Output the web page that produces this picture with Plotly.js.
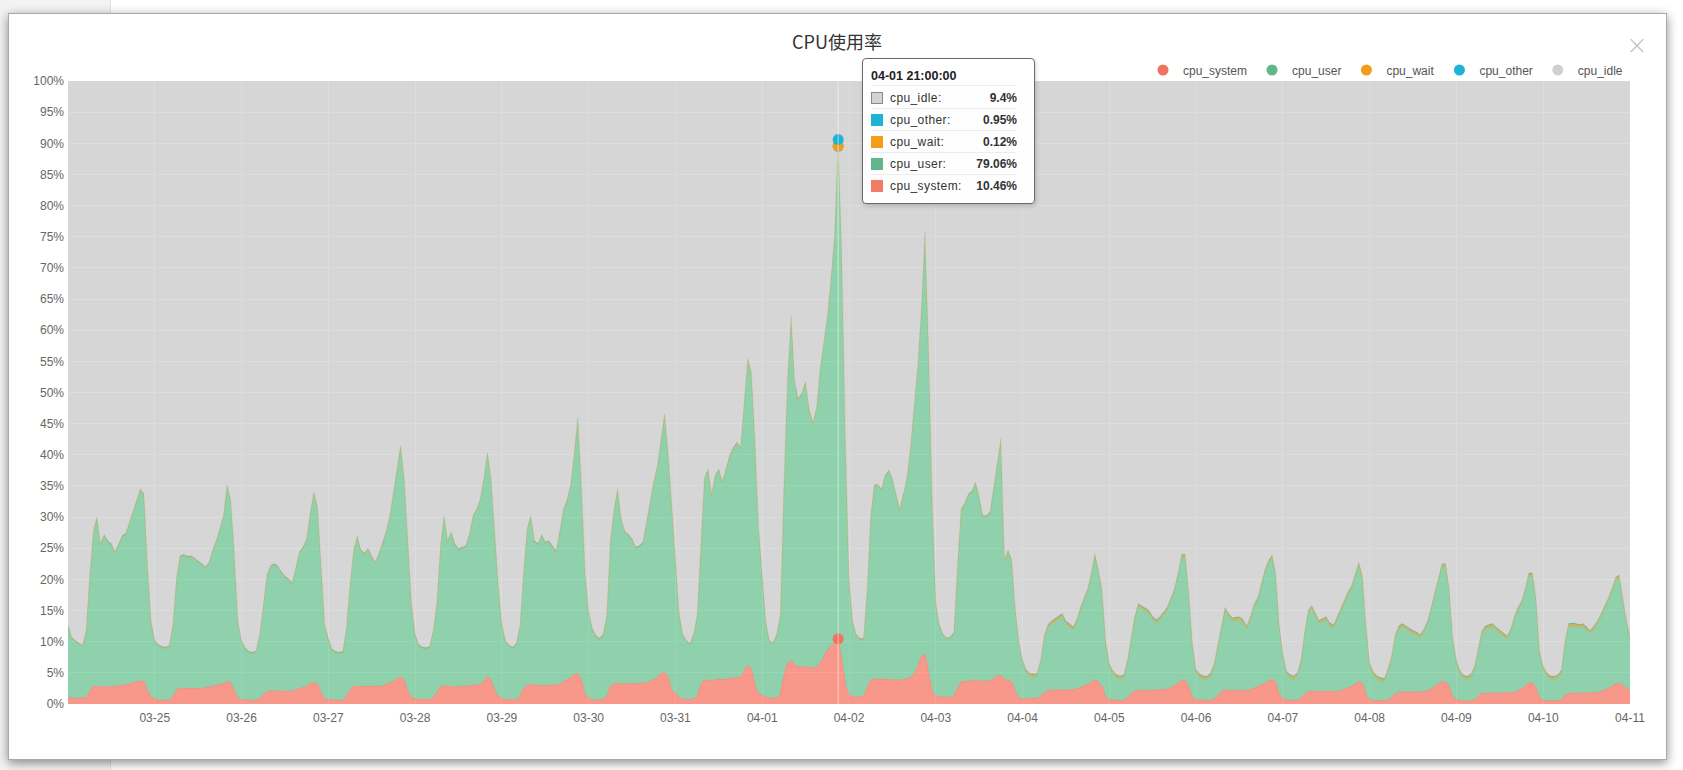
<!DOCTYPE html>
<html>
<head>
<meta charset="utf-8">
<script src="https://cdn.plot.ly/plotly-3.0.1.min.js"></script>
<style>
html,body{margin:0;padding:0;width:1683px;height:770px;overflow:hidden;background:#fff;font-family:"Liberation Sans",Arial,sans-serif;}
#side{position:absolute;left:0;top:0;width:110px;height:770px;background:#f3f3f3;border-right:1px solid #e2e2e2;}
#modal{position:absolute;left:8px;top:13px;width:1657px;height:745px;background:#fff;border:1px solid #a9a9a9;box-shadow:0 3px 10px rgba(0,0,0,0.45);}
#chart{position:absolute;left:0;top:0;width:1683px;height:770px;}
#close{position:absolute;left:1626px;top:30px;width:22px;height:30px;font-size:26px;line-height:30px;color:#c4c4c4;text-align:center;font-family:"DejaVu Sans",sans-serif;font-weight:300;}
#tip{position:absolute;left:862px;top:58px;width:146px;padding:8px 17px 7px 8px;background:rgba(255,255,255,0.97);border:1px solid #6a6a6a;border-radius:4px;box-shadow:1px 2px 4px rgba(0,0,0,0.18);font-size:12px;color:#333;font-family:"Liberation Sans",Arial,sans-serif;}
#tip .t{font-weight:bold;font-size:12.5px;line-height:18px;margin-bottom:1px;color:#222;border-bottom:1px solid #ececec;}
#tip .r{display:flex;align-items:center;height:21px;border-bottom:1px solid #ececec;}
#tip .r:last-child{border-bottom:none;}
#tip .sq{width:12px;height:12px;margin-right:7px;box-sizing:border-box;}
#tip .lb{flex:1;letter-spacing:0.4px;}
#tip .v{font-weight:bold;}
</style>
</head>
<body>
<div id="side"></div>
<div id="modal"></div>
<div id="chart"></div>
<div id="close">×</div>
<div id="tip"></div>
<script>
// ---- categories: days of the x axis (hourly samples, 00..23 each day) ----
const days = ['2025-03-24','2025-03-25','2025-03-26','2025-03-27','2025-03-28','2025-03-29','2025-03-30','2025-03-31','2025-04-01','2025-04-02','2025-04-03','2025-04-04','2025-04-05','2025-04-06','2025-04-07','2025-04-08','2025-04-09','2025-04-10'];
const lastTime = '2025-04-11 00:00';

const seriesNames = ['cpu_system','cpu_user','cpu_wait','cpu_other','cpu_idle'];

// ---- series values (%), one row per day, 24 hourly values, plus final 04-11 00:00 ----
const cpu_system = [
1.0,0.9,0.9,0.9,0.9,1.0,2.0,2.9,2.8,2.7,2.8,2.7,2.7,2.8,2.9,3.0,3.0,3.2,3.4,3.6,3.7,3.6,2.0,1.1,
0.8,0.6,0.6,0.6,0.6,1.2,2.3,2.5,2.5,2.4,2.5,2.5,2.4,2.5,2.6,2.7,2.8,3.0,3.1,3.3,3.6,3.4,2.0,0.9,
0.7,0.6,0.6,0.6,0.6,0.9,1.5,2.0,2.1,2.0,2.1,2.0,2.0,2.1,2.0,2.3,2.5,2.6,2.8,3.2,3.4,3.2,1.8,0.8,
0.7,0.6,0.6,0.6,0.6,1.2,2.2,2.8,2.8,2.7,2.7,2.8,2.8,2.7,2.8,2.9,3.1,3.3,3.6,4.0,4.4,3.8,2.0,1.0,
0.8,0.7,0.7,0.7,0.7,1.0,1.8,2.7,2.9,2.8,2.8,2.7,2.8,2.8,2.8,2.9,3.0,3.0,3.2,3.6,4.4,3.8,2.2,1.2,
0.9,0.7,0.7,0.7,0.7,1.2,2.5,3.0,3.1,3.0,3.0,3.0,2.9,3.0,3.0,3.0,3.2,3.5,3.8,4.2,4.7,4.9,3.8,1.5,
1.0,0.7,0.6,0.6,0.7,1.2,2.8,3.2,3.3,3.2,3.2,3.2,3.3,3.2,3.3,3.3,3.4,3.6,3.9,4.3,4.8,5.2,4.3,2.0,
1.8,1.0,0.8,0.7,0.7,0.8,1.2,3.0,3.8,3.8,3.7,3.9,4.0,3.9,4.0,4.1,4.2,4.2,4.3,5.3,6.3,5.5,3.0,1.5,
1.5,1.0,0.9,0.9,1.0,1.5,4.5,6.5,7.0,6.2,6.0,5.9,6.0,5.8,5.7,5.9,6.5,7.5,8.7,9.2,9.8,10.46,7.0,3.0,
1.5,1.2,1.1,1.1,1.2,2.5,3.8,4.0,4.0,3.9,4.0,4.0,3.9,3.8,3.8,3.9,4.0,4.2,4.8,6.0,7.5,8.0,5.0,2.0,
1.2,1.1,1.1,1.1,1.1,1.2,2.5,3.5,3.6,3.6,3.7,3.8,3.7,3.6,3.7,3.7,4.0,4.5,4.6,3.8,3.8,3.6,2.0,1.0,
0.8,0.8,0.8,0.8,0.9,1.2,1.9,2.1,2.2,2.2,2.3,2.2,2.2,2.2,2.3,2.4,2.6,2.8,3.1,3.5,3.9,3.5,2.8,1.0,
0.7,0.6,0.6,0.6,0.6,0.9,1.6,2.1,2.2,2.2,2.2,2.1,2.2,2.2,2.3,2.3,2.4,2.6,2.9,3.3,3.8,3.8,2.7,0.9,
0.7,0.6,0.6,0.6,0.6,0.8,1.3,2.0,2.2,2.2,2.1,2.2,2.2,2.1,2.1,2.3,2.5,2.8,3.0,3.3,3.7,3.9,3.5,1.5,
0.9,0.6,0.6,0.6,0.6,0.9,1.6,2.0,2.0,2.0,2.0,2.0,1.9,1.9,2.0,2.0,2.1,2.3,2.5,2.8,3.2,3.6,3.3,1.5,
0.7,0.5,0.5,0.5,0.5,0.6,1.0,1.6,1.9,1.9,1.9,1.8,1.8,1.9,1.9,2.0,2.1,2.4,2.8,3.2,3.6,3.5,2.8,1.0,
0.7,0.5,0.5,0.5,0.5,0.7,1.2,1.7,1.7,1.7,1.7,1.7,1.7,1.7,1.7,1.8,1.9,2.1,2.4,2.8,3.4,3.4,2.6,0.9,
0.6,0.5,0.5,0.5,0.5,0.6,1.4,1.7,1.7,1.7,1.7,1.7,1.7,1.7,1.8,1.8,2.0,2.2,2.5,2.8,3.2,3.3,3.0,2.5,
2.2];

const cpu_user = [
11.5,9.6,9.1,8.7,8.3,10.5,18.5,24.6,27.0,22.8,24.2,23.3,22.8,21.4,22.6,23.8,24.2,25.8,27.2,28.9,30.6,29.9,20.0,11.9,
9.2,8.7,8.4,8.3,8.6,11.3,17.7,21.1,21.3,21.1,21.1,20.7,20.4,19.8,19.2,19.8,21.7,23.0,24.9,26.7,31.4,29.1,22.0,12.1,
9.3,8.2,7.6,7.5,7.7,10.1,14.1,18.5,19.9,20.3,19.9,19.0,18.3,17.8,17.2,19.2,21.7,22.4,23.5,27.3,30.4,28.3,20.7,11.7,
9.6,8.0,7.6,7.5,7.6,10.8,16.8,21.7,24.0,21.8,21.3,22.0,20.7,19.9,21.2,22.9,24.4,26.7,30.4,34.0,36.9,32.2,24.0,15.0,
10.2,8.6,8.2,8.1,8.3,10.5,14.2,22.3,27.1,23.2,24.6,22.8,21.9,22.2,22.4,24.1,27.0,28.0,29.5,32.4,35.8,32.2,24.8,17.8,
11.6,9.3,8.5,8.2,8.8,11.2,18.5,25.0,26.9,23.0,22.5,24.0,22.9,23.0,22.2,21.4,24.3,27.5,28.7,30.8,35.3,40.9,31.2,19.5,
13.5,11.3,10.2,9.7,10.3,12.8,23.2,27.8,31.0,26.3,24.3,23.8,23.0,21.8,21.9,22.5,25.6,28.9,31.6,33.7,37.2,41.2,35.7,29.0,
21.2,13.5,10.2,9.3,8.8,10.2,12.8,23.0,32.2,33.7,29.8,32.6,33.5,31.6,33.5,35.6,36.8,37.6,36.7,42.7,48.9,47.5,39.0,26.5,
18.5,12.0,9.1,8.7,10.0,12.5,30.5,45.5,55.0,45.2,42.8,43.9,45.5,41.2,39.3,41.3,47.0,50.0,53.3,58.8,65.2,79.06,65.0,39.0,
18.5,11.8,9.9,9.2,9.1,15.5,26.2,31.0,31.0,30.4,32.5,33.3,32.1,29.7,27.3,29.6,32.0,36.8,42.2,48.0,55.5,67.5,52.0,31.0,
14.8,11.4,9.9,9.3,9.4,10.1,19.5,27.5,28.4,29.9,30.3,31.6,29.3,26.4,26.3,26.9,30.5,34.0,37.8,19.2,20.7,19.4,13.0,8.7,
5.7,4.2,3.6,3.5,3.5,5.3,8.6,10.1,10.6,11.0,11.3,11.8,10.6,10.1,9.6,10.6,12.4,13.7,14.9,17.0,19.7,17.5,15.0,8.5,
5.3,4.2,3.6,3.4,3.6,5.6,8.4,11.4,13.4,13.0,12.6,12.4,11.3,10.8,11.2,12.0,12.6,13.9,15.1,17.2,19.7,19.7,14.3,8.1,
4.3,3.7,3.4,3.3,3.9,5.2,7.7,10.5,12.8,11.8,11.2,11.2,11.3,10.9,9.9,11.2,13.0,13.7,16.0,17.7,18.8,19.5,17.0,10.5,
6.6,4.2,3.6,3.4,3.9,5.6,9.4,12.5,13.3,12.0,10.9,11.2,11.6,10.6,10.2,11.5,12.7,13.7,15.0,15.7,17.3,18.7,16.7,10.5,
5.3,4.2,3.5,3.2,3.1,4.4,6.0,8.9,10.1,10.5,10.1,9.8,9.5,9.1,8.7,9.5,10.7,12.6,14.7,16.8,18.4,18.5,15.2,9.0,
5.8,4.3,3.6,3.4,3.8,4.8,7.3,9.5,10.3,10.5,10.7,10.1,9.6,9.1,8.7,9.7,11.6,12.9,13.6,15.2,17.1,17.1,13.9,7.1,
4.9,4.0,3.5,3.4,3.7,4.3,8.1,10.7,10.8,10.7,10.5,10.7,10.1,9.6,10.2,11.0,12.0,13.0,14.0,15.2,16.6,16.9,13.5,10.5,
8.1];

const cpu_wait = [
0.1,0.1,0.1,0.1,0.1,0.1,0.1,0.1,0.1,0.1,0.1,0.1,0.1,0.1,0.1,0.1,0.1,0.1,0.1,0.1,0.1,0.1,0.1,0.1,
0.1,0.1,0.1,0.1,0.1,0.1,0.1,0.1,0.1,0.1,0.1,0.1,0.1,0.1,0.1,0.1,0.1,0.1,0.1,0.1,0.1,0.1,0.1,0.1,
0.1,0.1,0.1,0.1,0.1,0.1,0.1,0.1,0.1,0.1,0.1,0.1,0.1,0.1,0.1,0.1,0.1,0.1,0.1,0.1,0.1,0.1,0.1,0.1,
0.1,0.1,0.1,0.1,0.1,0.1,0.1,0.1,0.1,0.1,0.1,0.1,0.1,0.1,0.1,0.1,0.1,0.1,0.1,0.1,0.1,0.1,0.1,0.1,
0.1,0.1,0.1,0.1,0.1,0.1,0.1,0.1,0.1,0.1,0.1,0.1,0.1,0.1,0.1,0.1,0.1,0.1,0.1,0.1,0.1,0.1,0.1,0.1,
0.1,0.1,0.1,0.1,0.1,0.1,0.1,0.1,0.1,0.1,0.1,0.1,0.1,0.1,0.1,0.1,0.1,0.1,0.1,0.1,0.1,0.1,0.1,0.1,
0.1,0.1,0.1,0.1,0.1,0.1,0.1,0.1,0.1,0.1,0.1,0.1,0.1,0.1,0.1,0.1,0.1,0.1,0.1,0.1,0.1,0.1,0.1,0.1,
0.1,0.1,0.1,0.1,0.1,0.1,0.1,0.1,0.1,0.1,0.1,0.1,0.1,0.1,0.1,0.1,0.1,0.1,0.1,0.1,0.1,0.1,0.1,0.1,
0.1,0.1,0.1,0.1,0.1,0.1,0.1,0.1,0.1,0.1,0.1,0.1,0.1,0.1,0.1,0.1,0.1,0.1,0.1,0.1,0.1,0.12,0.1,0.1,
0.1,0.1,0.1,0.1,0.1,0.1,0.1,0.1,0.1,0.1,0.1,0.1,0.1,0.1,0.1,0.1,0.1,0.1,0.1,0.1,0.1,0.1,0.1,0.1,
0.1,0.1,0.1,0.1,0.1,0.1,0.1,0.1,0.1,0.1,0.1,0.1,0.1,0.1,0.1,0.1,0.1,0.1,0.1,0.1,0.1,0.1,0.1,0.1,
0.35,0.35,0.35,0.35,0.35,0.35,0.35,0.35,0.35,0.35,0.35,0.35,0.35,0.35,0.35,0.35,0.35,0.35,0.35,0.35,0.35,0.35,0.35,0.35,
0.35,0.35,0.35,0.35,0.35,0.35,0.35,0.35,0.35,0.35,0.35,0.35,0.35,0.35,0.35,0.35,0.35,0.35,0.35,0.35,0.35,0.35,0.35,0.35,
0.35,0.35,0.35,0.35,0.35,0.35,0.35,0.35,0.35,0.35,0.35,0.35,0.35,0.35,0.35,0.35,0.35,0.35,0.35,0.35,0.35,0.35,0.35,0.35,
0.35,0.35,0.35,0.35,0.35,0.35,0.35,0.35,0.35,0.35,0.35,0.35,0.35,0.35,0.35,0.35,0.35,0.35,0.35,0.35,0.35,0.35,0.35,0.35,
0.35,0.35,0.35,0.35,0.35,0.35,0.35,0.35,0.35,0.35,0.35,0.35,0.35,0.35,0.35,0.35,0.35,0.35,0.35,0.35,0.35,0.35,0.35,0.35,
0.35,0.35,0.35,0.35,0.35,0.35,0.35,0.35,0.35,0.35,0.35,0.35,0.35,0.35,0.35,0.35,0.35,0.35,0.35,0.35,0.35,0.35,0.35,0.35,
0.35,0.35,0.35,0.35,0.35,0.35,0.35,0.35,0.35,0.35,0.35,0.35,0.35,0.35,0.35,0.35,0.35,0.35,0.35,0.35,0.35,0.35,0.35,0.35,
0.35];

const cpu_other = [
0.15,0.15,0.15,0.15,0.15,0.15,0.15,0.15,0.15,0.15,0.15,0.15,0.15,0.15,0.15,0.15,0.15,0.15,0.15,0.15,0.15,0.15,0.15,0.15,
0.15,0.15,0.15,0.15,0.15,0.15,0.15,0.15,0.15,0.15,0.15,0.15,0.15,0.15,0.15,0.15,0.15,0.15,0.15,0.15,0.15,0.15,0.15,0.15,
0.15,0.15,0.15,0.15,0.15,0.15,0.15,0.15,0.15,0.15,0.15,0.15,0.15,0.15,0.15,0.15,0.15,0.15,0.15,0.15,0.15,0.15,0.15,0.15,
0.15,0.15,0.15,0.15,0.15,0.15,0.15,0.15,0.15,0.15,0.15,0.15,0.15,0.15,0.15,0.15,0.15,0.15,0.15,0.15,0.15,0.15,0.15,0.15,
0.15,0.15,0.15,0.15,0.15,0.15,0.15,0.15,0.15,0.15,0.15,0.15,0.15,0.15,0.15,0.15,0.15,0.15,0.15,0.15,0.15,0.15,0.15,0.15,
0.15,0.15,0.15,0.15,0.15,0.15,0.15,0.15,0.15,0.15,0.15,0.15,0.15,0.15,0.15,0.15,0.15,0.15,0.15,0.15,0.15,0.15,0.15,0.15,
0.15,0.15,0.15,0.15,0.15,0.15,0.15,0.15,0.15,0.15,0.15,0.15,0.15,0.15,0.15,0.15,0.15,0.15,0.15,0.15,0.15,0.15,0.15,0.15,
0.15,0.15,0.15,0.15,0.15,0.15,0.15,0.15,0.15,0.15,0.15,0.15,0.15,0.15,0.15,0.15,0.15,0.15,0.15,0.15,0.15,0.15,0.15,0.15,
0.15,0.15,0.15,0.15,0.15,0.15,0.15,0.15,0.15,0.15,0.15,0.15,0.15,0.15,0.15,0.15,0.15,0.15,0.15,0.15,0.15,0.95,0.15,0.15,
0.15,0.15,0.15,0.15,0.15,0.15,0.15,0.15,0.15,0.15,0.15,0.15,0.15,0.15,0.15,0.15,0.15,0.15,0.15,0.15,0.15,0.15,0.15,0.15,
0.15,0.15,0.15,0.15,0.15,0.15,0.15,0.15,0.15,0.15,0.15,0.15,0.15,0.15,0.15,0.15,0.15,0.15,0.15,0.15,0.15,0.15,0.15,0.15,
0.2,0.2,0.2,0.2,0.2,0.2,0.2,0.2,0.2,0.2,0.2,0.2,0.2,0.2,0.2,0.2,0.2,0.2,0.2,0.2,0.2,0.2,0.2,0.2,
0.2,0.2,0.2,0.2,0.2,0.2,0.2,0.2,0.2,0.2,0.2,0.2,0.2,0.2,0.2,0.2,0.2,0.2,0.2,0.2,0.2,0.2,0.2,0.2,
0.2,0.2,0.2,0.2,0.2,0.2,0.2,0.2,0.2,0.2,0.2,0.2,0.2,0.2,0.2,0.2,0.2,0.2,0.2,0.2,0.2,0.2,0.2,0.2,
0.2,0.2,0.2,0.2,0.2,0.2,0.2,0.2,0.2,0.2,0.2,0.2,0.2,0.2,0.2,0.2,0.2,0.2,0.2,0.2,0.2,0.2,0.2,0.2,
0.2,0.2,0.2,0.2,0.2,0.2,0.2,0.2,0.2,0.2,0.2,0.2,0.2,0.2,0.2,0.2,0.2,0.2,0.2,0.2,0.2,0.2,0.2,0.2,
0.2,0.2,0.2,0.2,0.2,0.2,0.2,0.2,0.2,0.2,0.2,0.2,0.2,0.2,0.2,0.2,0.2,0.2,0.2,0.2,0.2,0.2,0.2,0.2,
0.2,0.2,0.2,0.2,0.2,0.2,0.2,0.2,0.2,0.2,0.2,0.2,0.2,0.2,0.2,0.2,0.2,0.2,0.2,0.2,0.2,0.2,0.2,0.2,
0.2];

const cpu_idle = [
87.25,89.25,89.75,90.15,90.55,88.25,79.25,72.25,69.95,74.25,72.75,73.75,74.25,75.55,74.25,72.95,72.55,70.75,69.15,67.25,65.45,66.25,77.75,86.75,
89.75,90.45,90.75,90.85,90.55,87.25,79.75,76.15,75.95,76.25,76.15,76.55,76.95,77.45,77.95,77.25,75.25,73.75,71.75,69.75,64.75,67.25,75.75,86.75,
89.75,90.95,91.55,91.65,91.45,88.75,84.15,79.25,77.75,77.45,77.75,78.75,79.45,79.85,80.55,78.25,75.55,74.75,73.45,69.25,65.95,68.25,77.25,87.25,
89.45,91.15,91.55,91.65,91.55,87.75,80.75,75.25,72.95,75.25,75.75,74.95,76.25,77.15,75.75,73.95,72.25,69.75,65.75,61.75,58.45,63.75,73.75,83.75,
88.75,90.45,90.85,90.95,90.75,88.25,83.75,74.75,69.75,73.75,72.35,74.25,75.05,74.75,74.55,72.75,69.75,68.75,67.05,63.75,59.55,63.75,72.75,80.75,
87.25,89.75,90.55,90.85,90.25,87.35,78.75,71.75,69.75,73.75,74.25,72.75,73.95,73.75,74.55,75.35,72.25,68.75,67.25,64.75,59.75,53.95,64.75,78.75,
85.25,87.75,88.95,89.45,88.75,85.75,73.75,68.75,65.45,70.25,72.25,72.75,73.45,74.75,74.55,73.95,70.75,67.25,64.25,61.75,57.75,53.35,59.75,68.75,
76.75,85.25,88.75,89.75,90.25,88.75,85.75,73.75,63.75,62.25,66.25,63.25,62.25,64.25,62.25,60.05,58.75,57.95,58.75,51.75,44.55,46.75,57.75,71.75,
79.75,86.75,89.75,90.15,88.75,85.75,64.75,47.75,37.75,48.35,50.95,49.95,48.25,52.75,54.75,52.55,46.25,42.25,37.75,31.75,24.75,9.4,27.75,57.75,
79.75,86.75,88.75,89.45,89.45,81.75,69.75,64.75,64.75,65.45,63.25,62.45,63.75,66.25,68.65,66.25,63.75,58.75,52.75,45.75,36.75,24.25,42.75,66.75,
83.75,87.25,88.75,89.35,89.25,88.45,77.75,68.75,67.75,66.25,65.75,64.35,66.75,69.75,69.75,69.15,65.25,61.25,57.35,76.75,75.25,76.75,84.75,90.05,
92.95,94.45,95.05,95.15,95.05,92.95,88.95,87.25,86.65,86.25,85.85,85.45,86.65,87.15,87.55,86.45,84.45,82.95,81.45,78.95,75.85,78.45,81.65,89.95,
93.45,94.65,95.25,95.45,95.25,92.95,89.45,85.95,83.85,84.25,84.65,84.95,85.95,86.45,85.95,85.15,84.45,82.95,81.45,78.95,75.95,75.95,82.45,90.45,
94.45,95.15,95.45,95.55,94.95,93.45,90.45,86.95,84.45,85.45,86.15,86.05,85.95,86.45,87.45,85.95,83.95,82.95,80.45,78.45,76.95,76.05,78.95,87.45,
91.95,94.65,95.25,95.45,94.95,92.95,88.45,84.95,84.15,85.45,86.55,86.25,85.95,86.95,87.25,85.95,84.65,83.45,81.95,80.95,78.95,77.15,79.45,87.45,
93.45,94.75,95.45,95.75,95.85,94.45,92.45,88.95,87.45,87.05,87.45,87.85,88.15,88.45,88.85,87.95,86.65,84.45,81.95,79.45,77.45,77.45,81.45,89.45,
92.95,94.65,95.35,95.55,95.15,93.95,90.95,88.25,87.45,87.25,87.05,87.65,88.15,88.65,89.05,87.95,85.95,84.45,83.45,81.45,78.95,78.95,82.95,91.45,
93.95,94.95,95.45,95.55,95.25,94.55,89.95,87.05,86.95,87.05,87.25,87.05,87.65,88.15,87.45,86.65,85.45,84.25,82.95,81.45,79.65,79.25,82.95,86.45,
89.15];

// the sample shown in the tooltip: 04-01 21:00
const hoverTime = '2025-04-01 21:00';

// ---- build time axis from the day list ----
const xs = [];
days.forEach(d => { for (let h = 0; h < 24; h++) xs.push(d + ' ' + String(h).padStart(2,'0') + ':00'); });
xs.push(lastTime);
const hi = xs.indexOf(hoverTime);
// tick labels: every midnight after the first day, up to 04-11
const tickVals = days.slice(1).map(d => d + ' 00:00').concat([lastTime]);

const markerColors = {cpu_system:'#ef735f', cpu_user:'#62b68c', cpu_wait:'#f39d1d', cpu_other:'#1cb3d5', cpu_idle:'#d0d0d0'};
const fillColors = {
  cpu_system:'rgba(255,145,129,0.87)',
  cpu_user:'rgba(134,210,168,0.87)',
  cpu_wait:'rgba(246,165,40,0.87)',
  cpu_other:'rgba(30,182,212,0.87)',
  cpu_idle:'rgba(216,216,216,0.87)'
};
const lineStyles = {
  cpu_system:{color:'#f6907f', width:1},
  cpu_user:{color:'#86cea6', width:1},
  cpu_wait:{color:'rgba(226,172,70,0.75)', width:1},
  cpu_other:{color:'rgba(120,200,200,0.35)', width:0.6},
  cpu_idle:{color:'rgba(0,0,0,0)', width:0}
};
const dataBy = {cpu_system:cpu_system, cpu_user:cpu_user, cpu_wait:cpu_wait, cpu_other:cpu_other, cpu_idle:cpu_idle};

const traces = [];
seriesNames.forEach(n => {
  traces.push({
    type:'scatter', mode:'lines', x:xs, y:dataBy[n], name:n,
    stackgroup:'cpu', fillcolor:fillColors[n], line:Object.assign({shape:'linear'}, lineStyles[n]),
    showlegend:false, hoverinfo:'skip'
  });
});

// hover dots at the tooltip sample (stacked tops)
let cum = 0;
seriesNames.forEach(n => {
  cum += dataBy[n][hi];
  const showDot = n !== 'cpu_idle';
  traces.push({
    type:'scatter', mode:'markers', name:n,
    x: showDot ? [xs[hi]] : [null], y: showDot ? [cum] : [null],
    marker:{size:11, color:markerColors[n], line:{width:0}},
    showlegend:true, hoverinfo:'skip', cliponaxis:false
  });
});

const axisFont = {family:'"Liberation Sans", Arial, sans-serif', size:12, color:'#666'};

const layout = {
  width:1683, height:770,
  paper_bgcolor:'rgba(0,0,0,0)', plot_bgcolor:'#c8c8c8',
  margin:{l:68, r:53, t:81, b:66, pad:0, autoexpand:false},
  title:{text:'CPU使用率', font:{family:'"Noto Sans CJK SC", sans-serif', size:18, color:'#333'},
         xref:'container', x:837/1683, xanchor:'center', yref:'container', y:1-43/770, yanchor:'middle'},
  showlegend:true,
  legend:{orientation:'h', xref:'container', yref:'container', x:1628/1683, xanchor:'right',
          y:1-70/770, yanchor:'middle', font:{family:'"Liberation Sans", Arial, sans-serif', size:12, color:'#555'},
          bgcolor:'rgba(0,0,0,0)', traceorder:'normal', itemclick:false, itemdoubleclick:false},
  xaxis:{type:'date', range:[xs[0], lastTime], tickmode:'array', tickvals:tickVals, tickformat:'%m-%d',
         showgrid:true, gridcolor:'#ffffff', gridwidth:1, zeroline:false, showline:false, ticks:'',
         tickfont:axisFont, fixedrange:true, ticklabelstandoff:5},
  yaxis:{range:[0,100], dtick:5, ticksuffix:'%', showgrid:true, gridcolor:'#ffffff', gridwidth:1,
         zeroline:false, showline:false, ticks:'', tickfont:axisFont, fixedrange:true, ticklabelstandoff:3},
  hovermode:false,
  shapes:[{type:'line', xref:'x', yref:'paper', x0:xs[hi], x1:xs[hi], y0:0, y1:1,
           line:{color:'rgba(255,255,255,0.55)', width:1}, layer:'above'}]
};

Plotly.newPlot('chart', traces, layout, {displayModeBar:false, staticPlot:true});

// ---- tooltip built from the data at the hover sample ----
const tipOrder = ['cpu_idle','cpu_other','cpu_wait','cpu_user','cpu_system'];
const tipSq = {cpu_idle:'background:#d3d3d3;border:1px solid #8a8a8a;', cpu_other:'background:#1cb3d5;',
               cpu_wait:'background:#f39d1d;', cpu_user:'background:#62b68c;', cpu_system:'background:#f27b68;'};
const t = xs[hi];
let html = '<div class="t">' + t.slice(5,10) + ' ' + t.slice(11) + ':00</div>';
tipOrder.forEach(n => {
  html += '<div class="r"><span class="sq" style="' + tipSq[n] + '"></span><span class="lb">' + n +
          ':</span><span class="v">' + dataBy[n][hi] + '%</span></div>';
});
document.getElementById('tip').innerHTML = html;
</script>
</body>
</html>
